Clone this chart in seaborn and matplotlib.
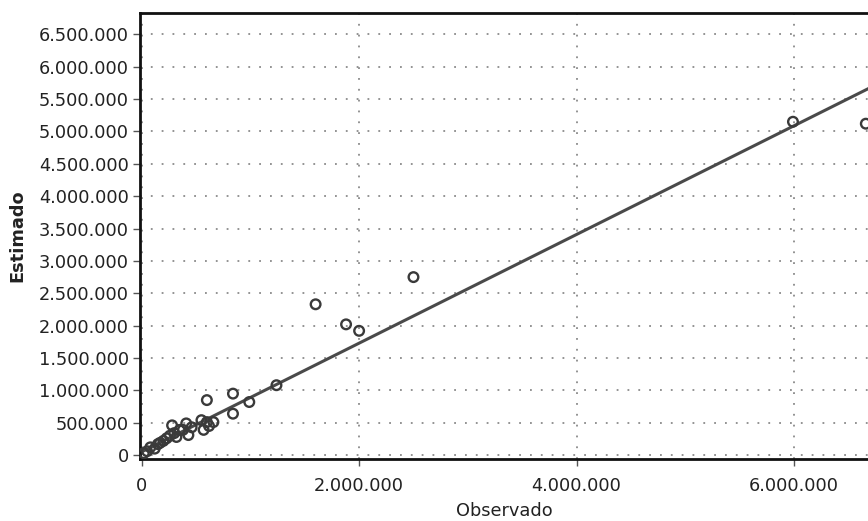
import matplotlib
matplotlib.use("Agg")
import matplotlib.pyplot as plt
import matplotlib.ticker as mticker
import seaborn as sns
import pandas as pd

observado = [20000, 50000, 80000, 120000, 150000, 170000, 200000, 230000, 260000,
             280000, 300000, 320000, 350000, 380000, 410000, 430000, 460000,
             550000, 570000, 600000, 620000, 660000,
             600000, 840000, 840000, 990000, 1240000,
             1600000, 1880000, 2000000, 2500000, 5990000, 6660000]
estimado = [30000, 60000, 120000, 100000, 170000, 190000, 220000, 260000, 300000,
            460000, 340000, 280000, 390000, 390000, 490000, 310000, 430000,
            540000, 390000, 510000, 450000, 510000,
            850000, 950000, 640000, 820000, 1080000,
            2330000, 2020000, 1920000, 2750000, 5150000, 5120000]

# Fitted line end points
fit_x = [0, 6800000]
fit_y = [50000, 5760000]

y_ticks = [0, 500000, 1000000, 1500000, 2000000, 2500000, 3000000, 3500000,
           4000000, 4500000, 5000000, 5500000, 6000000, 6500000]
x_ticks = [0, 2000000, 4000000, 6000000]

sns.set_theme(style="white")
plt.rcParams["font.family"] = ["DejaVu Sans"]

df = pd.DataFrame({"Observado": observado, "Estimado": estimado})
fit = pd.DataFrame({"x": fit_x, "y": fit_y})

fig = plt.figure(figsize=(8.68, 5.21), dpi=100)
ax = fig.add_axes([140 / 868, 1 - 459 / 521, 728 / 868, 446 / 521])

sns.lineplot(data=fit, x="x", y="y", ax=ax, color="#4a4a4a", lw=2.2, zorder=2)
sns.scatterplot(data=df, x="Observado", y="Estimado", ax=ax, s=48,
                facecolor="none", edgecolor="#3a3a3a", linewidth=1.7, zorder=3)

ax.set_xlim(-15000, 6680000)
ax.set_ylim(-60000, 6830000)
ax.set_xticks(x_ticks)
ax.set_yticks(y_ticks)
fmt = mticker.FuncFormatter(lambda v, p: f"{v:,.0f}".replace(",", "."))
ax.xaxis.set_major_formatter(fmt)
ax.yaxis.set_major_formatter(fmt)

ax.grid(True, color="#8a8a8a", linestyle=(0, (1, 5)), linewidth=1.3)
ax.set_axisbelow(True)

for side in ["left", "bottom", "top"]:
    ax.spines[side].set_visible(True)
    ax.spines[side].set_color("#111111")
    ax.spines[side].set_linewidth(2.0)
ax.spines["right"].set_visible(False)

ax.tick_params(axis="both", which="major", direction="out", length=5, width=1,
               color="#555555", labelsize=12.8, labelcolor="#222222", pad=3,
               left=True, bottom=True)
ax.tick_params(axis="x", pad=8)

ax.set_xlabel("Observado", fontsize=12.8, color="#222222", labelpad=5)
ax.set_ylabel("Estimado", fontsize=12.8, fontweight="bold", color="#222222", labelpad=9)

fig.savefig("out.png", dpi=100, facecolor="white")
